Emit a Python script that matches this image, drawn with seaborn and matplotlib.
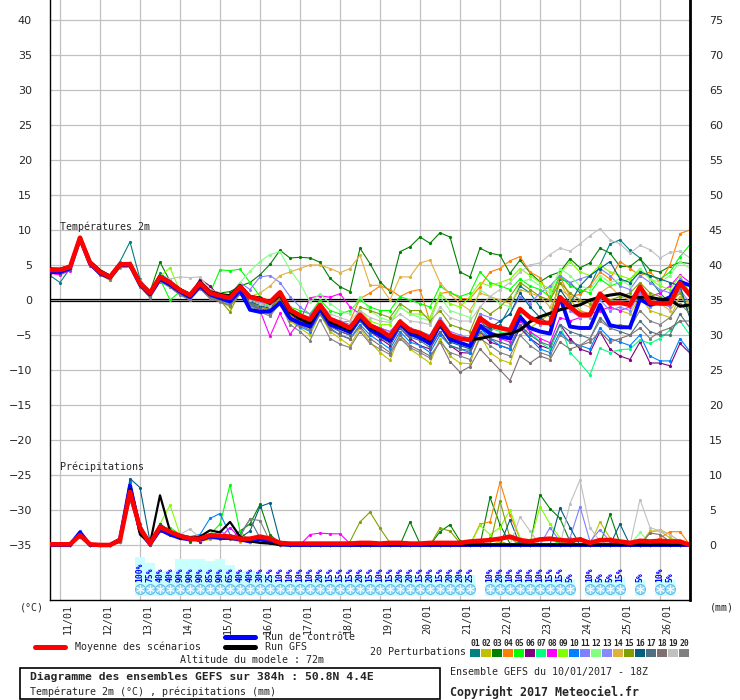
import matplotlib
matplotlib.use('Agg')
import matplotlib.pyplot as plt
import pandas as pd
import seaborn as sns

# 6-hourly steps from 10/01 18Z to 26/01 18Z (384h)
steps = list(range(65))
day_steps = [1, 5, 9, 13, 17, 21, 25, 29, 33, 37, 41, 45, 49, 53, 57, 61]
day_labels = ['11/01', '12/01', '13/01', '14/01', '15/01', '16/01', '17/01', '18/01',
              '19/01', '20/01', '21/01', '22/01', '23/01', '24/01', '25/01', '26/01']

member_ids = ['01', '02', '03', '04', '05', '06', '07', '08', '09', '10',
              '11', '12', '13', '14', '15', '16', '17', '18', '19', '20']
member_colors = ['#008080', '#c0c000', '#008000', '#ff8000', '#00ff00', '#800080', '#00ff80',
                 '#ff00ff', '#80ff00', '#0080ff', '#8080ff', '#80ff80', '#8888ff', '#e0b040',
                 '#80a000', '#006080', '#507080', '#807070', '#c0c0c0', '#808080']

# temperature 2m (°C)
mean_t = [4.3, 4.3, 4.7, 8.9, 5.3, 4.0, 3.3, 5.1, 5.1, 2.4,
          1.0, 3.3, 2.5, 1.4, 0.7, 2.4, 1.0, 0.6, 0.3, 1.9,
          0.4, 0.1, -0.3, 1.1, -1.4, -2.2, -2.8, -0.7, -2.7, -3.3,
          -4.0, -2.1, -3.6, -4.3, -5.2, -3.1, -4.3, -4.7, -5.5, -3.1,
          -5.0, -5.5, -5.7, -2.6, -3.6, -4.0, -4.3, -1.3, -2.5, -3.2,
          -3.3, 0.4, -1.0, -2.1, -2.1, 0.9, -0.5, -0.4, -0.7, 1.9,
          -0.4, -0.5, -0.5, 2.4, 0.7]
ctrl_t = [4.0, 4.0, 4.5, 8.8, 5.2, 3.8, 3.2, 5.0, 5.0, 2.2,
          0.8, 3.0, 2.2, 1.2, 0.4, 2.0, 0.8, 0.3, -0.2, 1.4,
          -1.4, -1.7, -1.6, -0.4, -2.6, -3.3, -3.8, -1.2, -3.5, -4.0,
          -4.6, -2.5, -4.2, -5.0, -5.8, -3.4, -4.8, -5.4, -6.2, -3.5,
          -5.6, -6.1, -6.6, -3.7, -4.8, -5.2, -5.5, -2.4, -4.0, -4.5,
          -4.8, 0.4, -3.8, -4.0, -4.0, -0.7, -3.6, -3.9, -3.9, 0.1,
          -0.7, -0.2, 0.4, 2.6, 2.1]
gfs_t = [4.4, 4.4, 4.8, 8.9, 5.5, 4.2, 3.4, 5.2, 5.2, 2.5,
         1.1, 3.4, 2.6, 1.5, 0.8, 2.6, 1.2, 0.8, 0.6, 2.1,
         0.5, 0.3, -0.5, 0.7, -1.7, -2.7, -3.3, -0.9, -3.1, -3.7,
         -4.3, -2.2, -3.9, -4.5, -5.3, -3.3, -4.5, -4.9, -5.7, -3.4,
         -5.2, -5.5, -5.7, -5.5, -5.2, -5.0, -4.8, -4.3, -3.1, -2.4,
         -1.9, -1.4, -1.0, -0.7, 0.0, 0.4, 0.7, 0.9, 0.4, 0.4,
         0.4, 0.1, 0.0, -0.9, -0.7]
m01_t = [3.5, 2.5, 4.5, 8.8, 5.0, 3.8, 3.0, 5.5, 8.3, 3.0,
         1.0, 3.8, 2.8, 1.0, 0.5, 2.0, 0.8, 0.2, -0.2, 1.5,
         0.0, -0.5, -1.0, 0.5, -2.0, -3.0, -3.5, -1.0, -3.0, -4.0,
         -4.5, -2.0, -3.5, -4.5, -5.5, -3.0, -4.0, -5.0, -6.0, -3.0,
         -5.0, -6.0, -6.5, -2.0, -4.5, -3.5, -1.0, 2.0, 1.0, -1.0,
         -2.5, 3.0, 2.5, 1.0, 2.0, 5.0, 8.0, 8.6, 7.1, 6.0,
         3.0, 1.0, -0.5, 1.5, -2.6]
m02_t = [4.0, 4.2, 4.4, 8.6, 5.0, 3.6, 2.8, 4.6, 4.8, 2.0,
         0.5, 2.8, 2.0, 0.8, 0.0, 1.8, 0.4, -0.2, -1.0, 1.0,
         -0.5, -1.5, -2.0, -0.5, -3.0, -4.0, -5.0, -2.0, -4.5, -5.5,
         -6.5, -4.0, -6.0, -7.5, -8.6, -5.0, -7.0, -8.0, -9.0, -5.5,
         -8.0, -9.0, -9.1, -5.0, -7.5, -8.5, -9.0, -5.0, -4.0, -3.0,
         -2.0, 2.5, 0.0, -1.5, -2.0, 1.0, -1.0, -1.5, -2.0, 0.5,
         -1.5, -2.0, -2.5, 0.5, -1.0]
m03_t = [4.6, 4.5, 5.0, 9.0, 5.5, 4.2, 3.5, 5.2, 5.3, 2.6,
         1.2, 5.4, 2.7, 1.6, 0.9, 2.7, 1.4, 1.0, 1.2, 2.0,
         2.5, 3.6, 5.1, 7.1, 6.0, 6.1, 6.0, 5.4, 3.1, 1.9,
         1.2, 7.4, 5.2, 2.6, 1.2, 6.9, 7.6, 9.0, 8.1, 9.6,
         9.0, 4.0, 3.3, 7.4, 6.7, 6.4, 3.8, 5.7, 3.9, 2.6,
         3.5, 4.0, 5.9, 4.6, 5.3, 7.4, 6.7, 4.8, 4.8, 5.9,
         4.3, 4.0, 4.8, 5.4, 5.2]
m04_t = [4.2, 4.0, 4.6, 8.7, 5.1, 3.9, 3.1, 5.0, 5.2, 2.3,
         0.6, 3.0, 2.4, 1.0, 0.4, 2.1, 0.6, 0.0, -0.5, 1.2,
         -0.3, -1.0, -1.5, 0.3, -2.2, -2.8, -3.5, -1.8, -3.0, -3.2,
         -3.0, 0.2, 1.0, 2.0, 1.5, 0.5, 1.2, 1.5, -3.1, 0.9,
         1.2, 0.2, 0.2, 1.9, 4.0, 4.5, 5.6, 6.2, 4.0, 3.2,
         0.0, 3.3, 0.5, 0.8, 2.0, 4.0, 3.0, 5.5, 4.5, 3.5,
         4.0, 2.5, 5.0, 9.5, 10.0]
m05_t = [4.0, 4.1, 4.6, 8.8, 5.2, 3.9, 3.3, 5.0, 5.0, 2.2,
         1.0, 3.0, 0.0, 1.2, 0.8, 2.0, 1.0, 4.3, 4.2, 4.4,
         2.5, 0.5, -0.5, 1.0, -1.0, -1.5, -2.0, 0.0, -1.5, -2.0,
         -1.5, 0.0, -1.0, -1.5, -1.5, 0.5, 0.0, -0.5, -1.0, 2.0,
         1.0, 0.5, 1.0, 4.0, 2.5, 2.0, 1.5, 3.0, 2.0, 1.5,
         0.5, 3.5, 2.0, 1.5, 1.0, 3.0, 2.0, 2.5, 3.0, 4.0,
         3.5, 3.0, 4.0, 6.2, 7.9]
m06_t = [4.1, 4.0, 4.5, 8.8, 5.1, 3.9, 3.1, 5.0, 5.1, 2.3,
         0.8, 3.1, 2.3, 1.2, 0.6, 3.0, 2.0, 0.4, 0.0, 1.5,
         0.0, -0.5, -1.0, 0.5, -2.0, -3.0, -3.5, -1.5, -3.5, -4.5,
         -5.0, -3.0, -4.5, -5.5, -6.5, -4.0, -5.5, -6.5, -7.0, -4.5,
         -6.5, -7.5, -7.6, -4.5, -6.0, -6.5, -7.0, -4.0, -5.5, -6.5,
         -7.0, -3.5, -5.5, -7.0, -7.5, -4.5, -7.0, -8.0, -8.5, -6.0,
         -9.0, -9.0, -9.4, -6.2, -7.6]
m07_t = [4.4, 4.5, 4.9, 9.0, 5.4, 4.1, 3.5, 5.3, 5.3, 2.6,
         1.1, 3.4, 2.6, 1.4, 0.8, 2.4, 1.0, 0.7, 0.4, 2.0,
         0.2, -0.3, -0.8, 0.6, -1.8, -2.5, -3.0, -0.8, -2.8, -3.6,
         -4.2, -2.2, -3.8, -4.6, -5.5, -3.3, -4.6, -5.2, -6.0, -3.5,
         -5.5, -6.2, -6.5, -3.0, -4.0, -4.5, -5.0, -2.0, -4.5, -6.0,
         -7.0, -3.5, -7.5, -9.0, -10.7, -6.9, -7.5, -7.1, -7.0, -5.7,
         -6.2, -5.5, -4.3, -3.0, -5.0]
m08_t = [3.8, 3.6, 4.2, 8.6, 4.9, 3.7, 3.0, 4.8, 4.9, 2.2,
         0.7, 2.9, 2.2, 1.1, 0.5, 2.2, 0.7, 0.3, -0.1, 1.5,
         -0.1, -1.5, -5.2, -1.9, -4.9, -3.0, 0.3, 0.6, 0.4, 0.9,
         -1.0, -2.0, -3.5, -4.0, -4.5, -3.0, -4.5, -5.0, -5.5, -3.5,
         -5.0, -5.5, -6.0, -3.0, -4.5, -5.5, -6.0, -3.0, -4.5, -5.5,
         -6.1, -2.5, -3.0, -2.5, -2.0, -1.5, -1.0, -1.5, -1.0, 1.0,
         0.5, 1.0, 2.0, 3.6, 2.5]
m09_t = [4.2, 4.3, 4.7, 8.8, 5.2, 4.0, 3.3, 5.1, 5.0, 2.4,
         0.9, 3.4, 4.6, 1.3, 0.6, 2.3, 0.9, 0.5, 0.2, 1.8,
         0.3, -0.2, -0.7, 1.0, -1.5, -2.3, -3.0, -0.5, -2.8, -3.5,
         -4.0, -1.5, -3.0, -3.5, -3.5, -1.0, -2.0, -2.0, -2.5, 1.0,
         -0.5, -1.0, 0.5, 2.5, 2.0, 2.5, 3.0, 4.5, 3.5, 2.5,
         1.5, 3.8, 5.5, 4.0, 3.5, 5.0, 4.0, 3.5, 3.0, 4.5,
         3.0, 2.0, 1.5, 3.5, 1.0]
m10_t = [3.9, 3.8, 4.3, 8.5, 5.0, 3.7, 3.0, 4.8, 4.8, 2.0,
         0.5, 2.8, 2.0, 0.9, 0.2, 1.8, 0.5, 0.0, -0.5, 1.0,
         -0.5, -1.5, -2.0, -0.5, -2.8, -3.8, -4.5, -2.0, -4.0, -5.0,
         -5.5, -3.5, -5.0, -6.0, -7.0, -4.5, -6.0, -6.5, -7.5, -5.0,
         -6.5, -7.0, -7.5, -4.0, -5.5, -6.5, -7.0, -3.5, -5.5, -7.0,
         -7.5, -4.5, -6.0, -6.5, -7.0, -4.0, -5.5, -6.0, -6.5, -5.0,
         -8.0, -8.7, -8.7, -5.5, -7.4]
m11_t = [4.3, 4.2, 4.7, 8.8, 5.3, 4.0, 3.3, 5.1, 5.1, 2.4,
         1.0, 3.2, 2.4, 1.3, 0.7, 2.3, 0.9, 0.5, 0.7, 2.5,
         1.5, 3.3, 3.5, 2.5, 0.5, -1.0, -2.0, -0.5, -2.5, -3.0,
         -3.5, -2.0, -3.5, -4.0, -4.5, -3.0, -4.0, -4.5, -5.0, -2.5,
         -4.5, -5.0, -5.5, -2.0, -2.5, -3.0, -2.0, 0.5, -0.5, 1.0,
         2.0, 3.5, 2.5, 3.0, 3.5, 4.5, 3.5, 2.0, 1.5, 3.5,
         2.5, 1.5, 1.0, 3.0, 0.5]
m12_t = [4.3, 4.4, 4.8, 8.9, 5.3, 4.0, 3.4, 5.1, 5.2, 2.5,
         1.1, 3.3, 2.5, 1.5, 0.9, 2.5, 1.2, 0.8, 0.6, 2.5,
         4.1, 5.5, 6.5, 6.9, 4.3, 2.4, -0.3, 0.9, -0.5, -1.5,
         -2.0, 0.5, -1.5, -2.5, -3.0, -1.0, -2.0, -2.5, -3.0, 0.5,
         -1.5, -2.0, -2.5, 1.5, 0.5, -0.5, -1.0, 2.5, 3.0, 2.0,
         1.0, 4.5, 3.5, 2.0, 1.5, 3.5, 2.5, 3.0, 2.0, 4.5,
         3.0, 2.5, 3.5, 5.5, 4.5]
m13_t = [4.4, 4.3, 4.8, 8.9, 5.3, 4.1, 3.4, 5.2, 5.2, 2.5,
         1.1, 3.3, 2.6, 1.5, 0.8, 2.5, 1.0, 0.6, 0.3, 1.9,
         0.3, -0.3, -0.6, 1.0, -1.5, -2.2, -2.8, -0.5, -2.6, -3.3,
         -3.9, -2.0, -3.6, -4.2, -5.0, -2.8, -4.2, -4.6, -5.4, -3.0,
         -5.0, -5.5, -5.6, -2.5, -3.5, -4.0, -4.5, -1.5, -2.5, -3.5,
         -3.0, 0.5, -1.5, -2.5, -2.5, 0.0, -1.5, -1.0, -1.5, 1.0,
         -1.0, -0.5, -1.0, 1.5, -0.5]
m14_t = [4.4, 4.3, 4.8, 8.9, 5.2, 4.1, 3.4, 5.2, 5.0, 2.5,
         1.0, 3.2, 2.6, 1.5, 0.8, 2.2, 0.9, 0.5, 0.2, 1.8,
         0.5, 1.0, 2.0, 3.5, 4.0, 4.5, 5.0, 5.0, 4.5, 3.9,
         4.5, 6.4, 2.1, 2.1, 0.0, 3.3, 3.3, 5.3, 5.7, 2.5,
         0.8, -0.5, -1.5, 1.0, 0.5, 0.0, -0.5, 1.5, 1.0, 0.5,
         -1.0, 1.5, 0.5, -0.5, -1.0, 1.0, 2.0, 0.5, 0.0, 2.0,
         0.5, -0.5, -1.5, 0.5, -0.5]
m15_t = [4.1, 4.2, 4.6, 8.7, 5.1, 3.9, 3.2, 5.0, 5.0, 2.3,
         0.9, 3.2, 2.4, 1.3, 0.6, 2.2, 0.8, 0.0, -1.7, 1.2,
         -0.3, -1.0, -1.3, 0.4, -2.0, -2.8, -3.3, -1.0, -3.0, -3.6,
         -4.3, -1.0, -1.5, -2.0, -2.5, -0.5, -1.5, -1.5, -3.0, -1.5,
         -3.5, -4.0, -4.5, -1.0, -2.0, -1.0, 0.5, 2.5, 1.5, 0.5,
         0.0, 2.5, 1.0, 0.0, -0.5, 1.0, 0.0, 0.5, 1.0, 2.5,
         1.0, 0.5, -0.5, 1.0, -1.5]
m16_t = [3.8, 3.9, 4.4, 8.6, 5.0, 3.8, 3.1, 4.9, 5.0, 2.2,
         0.7, 3.0, 2.3, 1.1, 0.4, 2.0, 0.6, 0.2, -0.3, 1.3,
         -0.2, -0.8, -1.2, 0.8, -1.7, -2.6, -3.2, -0.8, -2.9, -3.8,
         -4.5, -2.5, -4.0, -5.0, -6.0, -3.5, -5.0, -5.5, -6.5, -3.8,
         -6.0, -6.5, -7.0, -3.5, -4.0, -3.0, -2.0, 1.0, -1.0, -2.5,
         -3.5, 1.5, -0.5, 2.0, 3.5, 4.5, 5.5, 3.0, 2.5, 4.0,
         3.5, 3.0, 2.5, 2.0, -2.5]
m17_t = [4.0, 4.1, 4.5, 8.7, 5.1, 3.8, 3.1, 4.9, 4.9, 2.1,
         0.6, 2.9, 2.1, 1.0, 0.3, 1.9, 0.5, 0.1, -0.4, 1.1,
         -0.4, -1.2, -1.7, 0.0, -2.5, -3.3, -4.0, -1.8, -3.8, -4.5,
         -5.0, -3.0, -4.5, -5.3, -6.2, -4.0, -5.3, -5.8, -6.8, -4.5,
         -6.5, -7.0, -7.2, -4.5, -5.5, -6.0, -6.5, -3.5, -5.0, -6.0,
         -6.5, -3.5, -4.5, -5.0, -5.5, -2.5, -4.0, -4.5, -5.0, -3.0,
         -4.5, -5.0, -5.0, -2.0, -4.0]
m18_t = [4.2, 4.0, 4.4, 8.6, 5.0, 3.7, 3.0, 4.7, 4.7, 2.0,
         0.4, 2.7, 1.9, 0.8, 0.1, 1.7, 0.3, -0.2, -0.7, 0.9,
         -0.7, -1.5, -2.0, -0.3, -2.8, -3.6, -4.3, -2.0, -4.2, -5.0,
         -5.6, -3.8, -5.5, -6.5, -7.5, -5.0, -6.5, -7.2, -8.0, -6.0,
         -8.8, -10.3, -9.5, -7.0, -8.5, -10.0, -11.5, -8.0, -9.0, -8.0,
         -8.5, -6.0, -7.0, -6.5, -6.0, -4.5, -6.0, -5.5, -5.0, -4.0,
         -5.5, -4.5, -4.0, -3.0, -3.0]
m19_t = [4.5, 4.4, 4.9, 9.0, 5.5, 4.2, 3.6, 5.3, 5.4, 2.8,
         1.4, 3.5, 3.0, 3.3, 3.2, 3.3, 1.5, 1.0, 0.5, 1.9,
         0.0, -0.5, -1.0, 0.8, -1.5, -2.0, -2.5, -0.5, -2.0, -2.5,
         -3.0, -1.5, -2.5, -3.0, -3.2, -2.0, -3.0, -3.2, -3.5, -1.0,
         -2.5, -3.0, -3.0, -1.0, 0.5, 1.5, 2.5, 4.0, 5.0, 5.3,
         6.5, 7.4, 7.0, 8.0, 9.2, 10.2, 8.6, 8.0, 6.7, 7.8,
         7.2, 6.0, 6.8, 7.0, 6.0]
m20_t = [4.3, 4.1, 4.6, 8.7, 5.0, 3.6, 2.9, 4.7, 4.8, 1.9,
         0.3, 2.6, 1.8, 0.7, 0.0, 1.6, 0.2, -0.3, -0.8, 0.8,
         -0.8, -1.7, -2.3, -0.5, -3.5, -4.5, -5.8, -2.8, -5.5, -6.3,
         -6.8, -4.5, -6.2, -7.0, -7.8, -5.5, -6.8, -7.5, -8.3, -6.0,
         -7.5, -8.0, -8.5, -5.5, -6.5, -7.5, -8.0, -5.0, -6.5, -7.5,
         -8.0, -5.0, -6.0, -6.5, -5.5, -3.0, -4.0, -3.5, -4.0, -1.5,
         -3.0, -3.5, -2.5, -0.5, -2.0]

# precipitation (mm per 6h), drawn on the -35 baseline
mean_p = [0.1, 0.1, 0.1, 1.4, 0.1, 0.0, 0.0, 0.7, 7.6, 2.4,
          0.2, 2.6, 1.9, 1.3, 0.9, 0.9, 1.4, 1.3, 1.2, 0.9,
          0.9, 1.2, 0.9, 0.3, 0.2, 0.2, 0.2, 0.2, 0.2, 0.2,
          0.2, 0.3, 0.3, 0.2, 0.3, 0.3, 0.2, 0.2, 0.3, 0.3,
          0.3, 0.3, 0.5, 0.6, 0.7, 0.9, 1.2, 0.7, 0.5, 0.8,
          0.9, 0.7, 0.6, 0.8, 0.3, 0.7, 0.7, 0.5, 0.3, 0.6,
          0.5, 0.6, 0.5, 0.5, 0.0]
ctrl_p = [0, 0, 0, 1.8, 0, 0, 0, 0.8, 8.5, 2.0,
          0.1, 2.2, 1.5, 1.0, 0.8, 0.8, 1.2, 1.0, 1.0, 0.8,
          0.5, 0.8, 0.5, 0.1, 0, 0, 0, 0, 0, 0,
          0, 0, 0, 0, 0, 0, 0, 0, 0, 0,
          0, 0, 0, 0, 0, 0, 0, 0, 0, 0,
          0, 0, 0, 0, 0, 0, 0, 0, 0, 0,
          0, 0, 0, 0, 0]
gfs_p = [0, 0, 0, 1.5, 0, 0, 0, 0.5, 8.0, 1.5,
         0.2, 7.1, 2.0, 1.0, 1.0, 1.2, 2.1, 1.8, 3.3, 1.2,
         0.5, 0.3, 0.2, 0, 0, 0, 0, 0, 0, 0,
         0, 0, 0, 0, 0, 0, 0, 0, 0, 0,
         0, 0, 0, 0, 0, 0, 0, 0, 0, 0,
         0, 0, 0, 0, 0, 0, 0, 0, 0, 0,
         0, 0, 0, 0, 0]
m01_p = [0, 0, 0, 1.5, 0, 0, 0, 0.8, 9.0, 3.0,
         0.3, 3.0, 2.0, 1.5, 1.0, 0.8, 1.0, 1.2, 1.0, 0.8,
         0.5, 1.0, 0.8, 0.2, 0, 0, 0, 0, 0, 0,
         0, 0, 0, 0, 0, 0, 0, 0, 0, 0,
         0, 0, 0, 0, 1.0, 0.5, 0, 0.5, 0, 0,
         0, 0, 0, 1.0, 0, 0, 0, 0, 0.5, 0,
         0, 0.3, 0, 0, 0]
m02_p = [0, 0, 0, 1.2, 0, 0, 0, 0.5, 7.0, 2.0,
         0, 2.0, 1.5, 1.0, 1.0, 0.5, 0.8, 1.0, 0.8, 0.5,
         0.5, 0.8, 0.5, 0, 0, 0, 0, 0, 0, 0,
         0, 0, 0, 0, 0, 0, 0, 0, 0, 0,
         0, 0, 0, 0, 0, 0.5, 0, 0, 0, 0,
         0, 0, 0, 0, 0, 3.3, 1.0, 0, 0, 0,
         2.0, 2.0, 1.0, 0.5, 0]
m03_p = [0, 0, 0, 1.6, 0, 0, 0, 0.6, 8.0, 2.5,
         0.2, 2.5, 2.0, 1.3, 0.5, 1.0, 1.5, 1.2, 0.8, 2.0,
         3.0, 5.8, 1.5, 0.2, 0, 0, 0, 0, 0, 0,
         0, 0, 0, 0, 0, 0, 3.3, 0.2, 0, 1.9,
         2.9, 0.6, 0, 0, 6.8, 2.9, 0.2, 0, 0, 7.2,
         5.2, 3.8, 0.5, 0, 0, 0, 4.4, 0.2, 0, 0,
         0, 0, 0, 0, 0]
m04_p = [0, 0, 0, 1.3, 0, 0, 0, 0.7, 7.5, 2.2,
         0.2, 2.5, 1.8, 1.0, 0.8, 0.6, 1.2, 1.0, 1.0, 0.6,
         0.8, 0.8, 0.6, 0.2, 0, 0, 0, 0, 0, 0,
         0, 0, 0, 0, 0, 0, 0, 0, 0, 0,
         0, 0, 0, 3.0, 3.3, 9.0, 4.3, 0.9, 0.3, 0,
         0, 0, 0, 0, 0, 0, 0, 0, 0, 0,
         0, 1.0, 1.9, 1.9, 0]
m05_p = [0, 0, 0, 1.4, 0, 0, 0, 0.6, 8.5, 2.5,
         0.2, 2.2, 2.5, 1.5, 1.0, 1.0, 1.5, 3.0, 8.6, 2.0,
         0.5, 0.5, 0.3, 0, 0, 0, 0, 0, 0, 0,
         0, 0, 0, 0, 0, 0, 0, 0, 0, 0,
         0, 0, 0, 0, 0, 0, 0, 0, 0, 0,
         0, 0.5, 0, 0, 0, 0, 0, 0, 0, 0,
         0, 0, 0, 0, 0]
m06_p = [0, 0, 0, 1.2, 0, 0, 0, 0.4, 6.5, 2.0,
         0, 2.0, 1.5, 1.0, 0.8, 0.5, 1.0, 1.0, 1.0, 0.8,
         0.5, 0.5, 0.3, 0, 0, 0, 0, 0, 0, 0,
         0, 0, 0, 0, 0, 0, 0, 0, 0, 0,
         0, 0, 0, 0, 0, 0, 0, 0, 0, 0,
         0, 0, 0, 0, 0, 0, 0, 0, 0, 0,
         0, 0, 0, 0, 0]
m07_p = [0, 0, 0, 1.5, 0, 0, 0, 0.7, 8.0, 2.8,
         0.3, 2.8, 2.0, 1.2, 1.0, 1.0, 1.2, 1.0, 1.0, 0.8,
         0.5, 1.0, 0.5, 0, 0, 0, 0, 0, 0, 0,
         0, 0, 0, 0, 0, 0, 0, 0, 0, 0,
         0, 0, 0, 0, 0, 0, 0, 0, 0, 0,
         0, 0, 0, 0, 0, 0.5, 0, 0, 0, 0,
         0, 0, 0, 0, 0]
m08_p = [0, 0, 0, 1.3, 0, 0, 0, 0.6, 7.5, 2.2,
         0.2, 2.5, 1.8, 1.2, 1.0, 0.8, 1.0, 1.0, 2.5, 1.0,
         0.8, 0.5, 0.3, 0.2, 0, 0, 1.5, 1.7, 1.6, 1.6,
         0.2, 0, 0, 0, 0, 0, 0, 0, 0, 0,
         0, 0, 0, 0, 0, 0, 0, 0, 0, 0,
         0, 0, 0, 0, 0, 0, 0, 0, 0, 0,
         0.5, 0.3, 0, 0, 0]
m09_p = [0, 0, 0, 1.4, 0, 0, 0, 0.7, 8.5, 2.6,
         0.2, 3.0, 5.7, 1.5, 1.2, 1.0, 1.5, 1.3, 1.0, 0.8,
         0.8, 1.0, 0.5, 0, 0, 0, 0, 0, 0, 0,
         0, 0, 0, 0, 0, 0, 0, 0, 0, 0,
         0, 0, 0, 2.8, 1.5, 2.5, 5.0, 1.0, 0.3, 5.5,
         3.0, 1.0, 0, 0, 0, 0, 0, 0, 0, 0,
         0, 0, 0, 0, 0]
m10_p = [0, 0, 0, 2.0, 0, 0, 0, 0.8, 9.0, 3.0,
         0.3, 2.8, 2.0, 1.5, 1.2, 1.5, 3.8, 4.5, 1.5, 1.0,
         0.8, 0.8, 0.5, 0.1, 0, 0, 0, 0, 0, 0,
         0, 0, 0, 0, 0, 0, 0, 0, 0, 0,
         0, 0, 0, 0, 0, 0, 0, 0, 0, 0,
         0, 0, 0, 0, 0, 0, 0, 0, 0, 0,
         0, 0, 0, 0, 0]
m11_p = [0, 0, 0, 1.5, 0, 0, 0, 0.6, 7.8, 2.4,
         0.2, 2.5, 1.8, 1.3, 1.0, 1.0, 1.2, 2.0, 1.2, 0.8,
         0.6, 0.8, 0.4, 0, 0, 0, 0, 0, 0, 0,
         0, 0, 0, 0, 0, 0, 0, 0, 0, 0,
         0, 0, 0, 0, 0, 0, 0, 0, 0, 0,
         2.5, 0.5, 1.0, 5.5, 0.5, 2.2, 0.5, 0, 0, 0,
         0, 0, 0, 0, 0]
m12_p = [0, 0, 0, 1.4, 0, 0, 0, 0.6, 8.2, 2.5,
         0.2, 2.6, 1.9, 1.2, 1.0, 0.9, 1.3, 1.2, 1.0, 0.9,
         0.7, 0.9, 0.5, 0.1, 0, 0, 0, 0, 0, 0,
         0, 0, 0, 0, 0, 0, 0, 0, 0, 0,
         0, 0, 0, 0, 0, 0, 0, 0, 0, 0,
         0, 0, 0, 0, 0, 0, 0, 0, 0, 1.8,
         0.3, 0, 0, 0, 0]
m13_p = [0, 0, 0, 1.3, 0, 0, 0, 0.5, 7.2, 2.1,
         0.1, 2.3, 1.7, 1.1, 0.9, 0.8, 1.1, 1.0, 0.9, 0.8,
         0.5, 0.7, 0.4, 0, 0, 0, 0, 0, 0, 0,
         0, 0, 0, 0, 0, 0, 0, 0, 0, 0,
         0, 0, 0, 0, 0, 0, 0, 0, 0, 0,
         0, 0, 0, 0, 0, 0, 0, 0, 0, 0,
         0, 0, 0, 0, 0]
m14_p = [0, 0, 0, 1.4, 0, 0, 0, 0.6, 8.0, 2.4,
         0.2, 2.4, 1.8, 1.2, 1.0, 0.9, 1.2, 1.1, 1.0, 0.8,
         0.6, 0.8, 0.5, 0, 0, 0, 0, 0, 0, 0,
         0, 0, 0, 0, 0, 0, 0, 0, 0, 0,
         0, 0, 0, 0, 0, 0, 0, 0, 0, 0,
         0, 0, 0, 0, 0, 0, 0, 0, 0, 0,
         1.8, 2.2, 1.5, 0.5, 0]
m15_p = [0, 0, 0, 1.3, 0, 0, 0, 0.5, 7.5, 2.3,
         0.2, 2.4, 1.8, 1.1, 0.9, 0.8, 1.1, 1.0, 0.9, 0.8,
         0.5, 0.8, 0.5, 0, 0, 0, 0, 0, 0, 0,
         0.5, 3.3, 4.7, 2.4, 0.3, 0, 0, 0, 0, 2.4,
         2.0, 0.3, 0, 0, 0, 6.3, 1.0, 0, 0, 0,
         0, 0, 0, 0, 0, 0, 0, 0, 0, 0,
         0, 0, 0, 0, 0]
m16_p = [0, 0, 0, 1.8, 0, 0, 0, 0.7, 9.5, 8.2,
         0.5, 3.0, 2.0, 1.5, 1.2, 1.0, 1.3, 1.2, 1.0, 1.0,
         2.0, 5.5, 6.0, 0.5, 0, 0, 0, 0, 0, 0,
         0, 0, 0, 0, 0, 0, 0, 0, 0, 0,
         0, 0, 0, 0, 0, 0, 3.6, 0, 0, 0,
         0, 5.3, 2.5, 0, 0, 0, 0, 3.0, 0, 0,
         0, 0, 0, 0, 0]
m17_p = [0, 0, 0, 1.3, 0, 0, 0, 0.6, 7.0, 2.3,
         0.2, 2.2, 1.6, 1.0, 0.9, 0.8, 1.0, 1.0, 1.0, 1.5,
         3.7, 1.0, 0.4, 0, 0, 0, 0, 0, 0, 0,
         0, 0, 0, 0, 0, 0, 0, 0, 0, 0,
         0, 0, 0, 0, 0, 0, 0, 0, 0, 0,
         0, 0, 0, 0, 0, 0, 0, 0, 0, 0,
         0, 0, 0, 0, 0]
m18_p = [0, 0, 0, 1.2, 0, 0, 0, 0.5, 6.5, 2.0,
         0.1, 2.0, 1.5, 1.0, 0.8, 0.7, 1.0, 0.9, 0.8, 0.7,
         0.5, 0.7, 0.4, 0, 0, 0, 0, 0, 0, 0,
         0, 0, 0, 0, 0, 0, 0, 0, 0, 0,
         0, 0, 0, 0, 0, 0, 0, 0, 0, 0,
         0, 0, 0, 0, 0, 0, 0, 0, 0, 0,
         1.7, 1.5, 0.5, 0, 0]
m19_p = [0, 0, 0, 1.3, 0, 0, 0, 0.6, 7.2, 2.2,
         0.2, 2.3, 2.0, 1.5, 2.3, 1.0, 1.1, 1.0, 0.9, 0.8,
         0.5, 0.7, 0.4, 0, 0, 0, 0, 0, 0, 0,
         0, 0, 0, 0, 0, 0, 0, 0, 0, 0,
         0, 0, 0, 0, 0, 0, 0, 4.0, 2.0, 0,
         0, 0, 5.9, 9.3, 2.5, 0.5, 0, 0, 0, 6.5,
         2.5, 2.0, 1.5, 0.5, 0]
m20_p = [0, 0, 0, 1.2, 0, 0, 0, 0.5, 6.8, 2.0,
         0.1, 2.1, 1.6, 1.0, 0.8, 0.7, 1.0, 1.0, 0.9, 1.2,
         3.7, 3.5, 0.5, 0, 0, 0, 0, 0, 0, 0,
         0, 0, 0, 0, 0, 0, 0, 0, 0, 0,
         0, 0, 0, 0, 0, 0, 0, 0, 0, 0,
         0, 0, 0, 0, 0, 0, 0, 0, 0, 0,
         0, 0, 0, 0, 0]

# snow probability labels under the chart
snow_steps = [9, 10, 11, 12, 13, 14, 15, 16, 17, 18, 19, 20, 21, 22, 23, 24, 25, 26, 27,
              28, 29, 30, 31, 32, 33, 34, 35, 36, 37, 38, 39, 40, 41, 42,
              44, 45, 46, 47, 48, 49, 50, 51, 52, 54, 55, 56, 57, 59, 61, 62]
snow_pct = [100, 75, 40, 40, 90, 90, 90, 85, 90, 65, 40, 40, 30, 25, 10, 10, 10, 10, 20,
            15, 15, 15, 20, 15, 10, 15, 20, 20, 15, 20, 15, 20, 20, 25,
            10, 20, 10, 10, 10, 10, 15, 15, 5, 10, 5, 5, 15, 5, 10, 5]

member_temps = [m01_t, m02_t, m03_t, m04_t, m05_t, m06_t, m07_t, m08_t, m09_t, m10_t,
                m11_t, m12_t, m13_t, m14_t, m15_t, m16_t, m17_t, m18_t, m19_t, m20_t]
member_precs = [m01_p, m02_p, m03_p, m04_p, m05_p, m06_p, m07_p, m08_p, m09_p, m10_p,
                m11_p, m12_p, m13_p, m14_p, m15_p, m16_p, m17_p, m18_p, m19_p, m20_p]

PREC_BASE = -35  # 0 mm sits on the -35 °C line
W, H = 740, 700


def fpos(x, y):
    # pixel position -> figure fraction
    return x / W, 1 - y / H


sns.set_style('white')
plt.rcParams['font.family'] = ['DejaVu Sans Mono', 'DejaVu Sans']

fig = plt.figure(figsize=(W / 100, H / 100), dpi=100)
ax = fig.add_axes([50 / W, 100 / H, 640 / W, 600 / H])
ax.set_xlim(0, 64)
ax.set_ylim(-300 / 7, 300 / 7)

# grid
ax.set_yticks(range(-35, 45, 5))
ax.set_xticks(day_steps)
ax.set_xticklabels([])
ax.grid(True, color='#c0c0c0', lw=0.9)
ax.set_axisbelow(True)
ax.tick_params(axis='y', length=0, pad=13, labelsize=8)
ax.tick_params(axis='x', length=4, color='#c0c0c0', width=0.9)
for lab in ax.get_yticklabels():
    lab.set_fontfamily('DejaVu Sans')
for side in ['top', 'right']:
    ax.spines[side].set_visible(False)
for side in ['left', 'bottom']:
    ax.spines[side].set_color('black')
    ax.spines[side].set_linewidth(1.0)
ax.axhline(0.2, color='black', lw=0.9, zorder=1.5)
ax.axhline(-0.2, color='black', lw=0.9, zorder=1.5)

# ensemble members
rows = []
for mid, temps, precs in zip(member_ids, member_temps, member_precs):
    for s in steps:
        rows.append({'member': mid, 'step': s, 'temp': temps[s], 'prec': precs[s] + PREC_BASE})
df = pd.DataFrame(rows)
palette = dict(zip(member_ids, member_colors))
for col in ['temp', 'prec']:
    sns.lineplot(data=df, x='step', y=col, hue='member', hue_order=member_ids, palette=palette,
                 estimator=None, lw=0.8, marker='o', markersize=2.3, markeredgewidth=0,
                 legend=False, ax=ax, zorder=2)

# control, GFS, ensemble mean
sns.lineplot(x=steps, y=ctrl_t, color='#0000ff', lw=2.8, ax=ax, zorder=3)
sns.lineplot(x=steps, y=[p + PREC_BASE for p in ctrl_p], color='#0000ff', lw=2.8, ax=ax, zorder=3)
sns.lineplot(x=steps, y=gfs_t, color='black', lw=2.2, ax=ax, zorder=3)
sns.lineplot(x=steps, y=[p + PREC_BASE for p in gfs_p], color='black', lw=1.6, ax=ax, zorder=3)
sns.lineplot(x=steps, y=mean_t, color='#ff0000', lw=3.3, ax=ax, zorder=4)
sns.lineplot(x=steps, y=[p + PREC_BASE for p in mean_p], color='#ff0000', lw=3.3, ax=ax, zorder=4)
ax.set_xlabel('')
ax.set_ylabel('')

# snow probability strip
bar_bottom = (300 - 596) / 7
bar_heights = [(15 + 0.24 * p) / 7 for p in snow_pct]
ax.bar(snow_steps, bar_heights, bottom=bar_bottom, width=1.0, color='#c8ffff', lw=0, zorder=5)
flake_y = (300 - 589) / 7
ax.scatter(snow_steps, [flake_y] * len(snow_steps), s=52, marker='o', color='#8fd6f4',
           edgecolors='#5ab4e6', linewidths=0.6, zorder=6)
ax.scatter(snow_steps, [flake_y] * len(snow_steps), s=32, marker=(6, 2, 0), color='#e8f8ff',
           linewidths=0.7, zorder=7)
label_y = (300 - 582) / 7
for s, p in zip(snow_steps, snow_pct):
    ax.text(s, label_y, f'{p}%', rotation=90, ha='center', va='bottom', fontsize=5.8,
            fontweight='bold', color='#0000ff', zorder=8)

ax.text(1, (300 - 227) / 7, 'Températures 2m', fontsize=7.2, va='center', ha='left')
ax.text(1, (300 - 467) / 7, 'Précipitations', fontsize=7.2, va='center', ha='left')

# date labels
for s, lab in zip(day_steps, day_labels):
    ax.text(s + 0.75, -0.006, lab, transform=ax.get_xaxis_transform(), rotation=90,
            ha='center', va='top', fontsize=7.2)

# right axis (precipitation mm)
ax2 = ax.twinx()
ax2.set_ylim(-300 / 7 - PREC_BASE, 300 / 7 - PREC_BASE)
ax2.set_yticks(range(0, 80, 5))
ax2.tick_params(axis='y', length=0, pad=13.5, labelsize=8)
for lab in ax2.get_yticklabels():
    lab.set_fontfamily('DejaVu Sans')
ax2.grid(False)
for side in ['top', 'left', 'bottom']:
    ax2.spines[side].set_visible(False)
ax2.spines['right'].set_color('black')
ax2.spines['right'].set_linewidth(2.0)

fig.text(*fpos(32, 607), '(°C)', ha='center', va='center', fontsize=7.2)
fig.text(*fpos(722, 607), '(mm)', ha='center', va='center', fontsize=7.2)


# legend block
def legend_line(x0, x1, y, color):
    (a, b), (c, _) = fpos(x0, y), fpos(x1, y)
    fig.add_artist(plt.Line2D([a, c], [b, b], color=color, lw=3.6))


legend_line(35, 65, 647, '#ff0000')
fig.text(*fpos(75, 647), 'Moyenne des scénarios', va='center', fontsize=7.2)
legend_line(225, 255, 637, '#0000ff')
fig.text(*fpos(265, 637), 'Run de contrôle', va='center', fontsize=7.2)
legend_line(225, 255, 647, 'black')
fig.text(*fpos(265, 647), 'Run GFS', va='center', fontsize=7.2)
fig.text(*fpos(180, 660), 'Altitude du modele : 72m', va='center', fontsize=7.2)

fig.add_artist(plt.Rectangle(fpos(20, 699), 420 / W, 31 / H, fill=False, ec='black', lw=1.2))
fig.text(*fpos(30, 677), 'Diagramme des ensembles GEFS sur 384h : 50.8N 4.4E', va='center',
         fontsize=8.2, fontweight='bold')
fig.text(*fpos(30, 692), 'Température 2m (°C) , précipitations (mm)', va='center', fontsize=7.2)

fig.text(*fpos(370, 652), '20 Perturbations', va='center', fontsize=7.2)
for i, (mid, c) in enumerate(zip(member_ids, member_colors)):
    fig.add_artist(plt.Rectangle(fpos(470 + 11 * i, 657), 10 / W, 8 / H, fc=c, ec='none'))
    fig.text(*fpos(475 + 11 * i, 643), mid, ha='center', va='center', fontsize=5.8,
             fontweight='bold')
fig.text(*fpos(450, 672), 'Ensemble GEFS du 10/01/2017 - 18Z', va='center', fontsize=7.2)
fig.text(*fpos(450, 692), 'Copyright 2017 Meteociel.fr', va='center', fontsize=8.4,
         fontweight='bold')

fig.savefig('out.png', dpi=100, facecolor='white')
